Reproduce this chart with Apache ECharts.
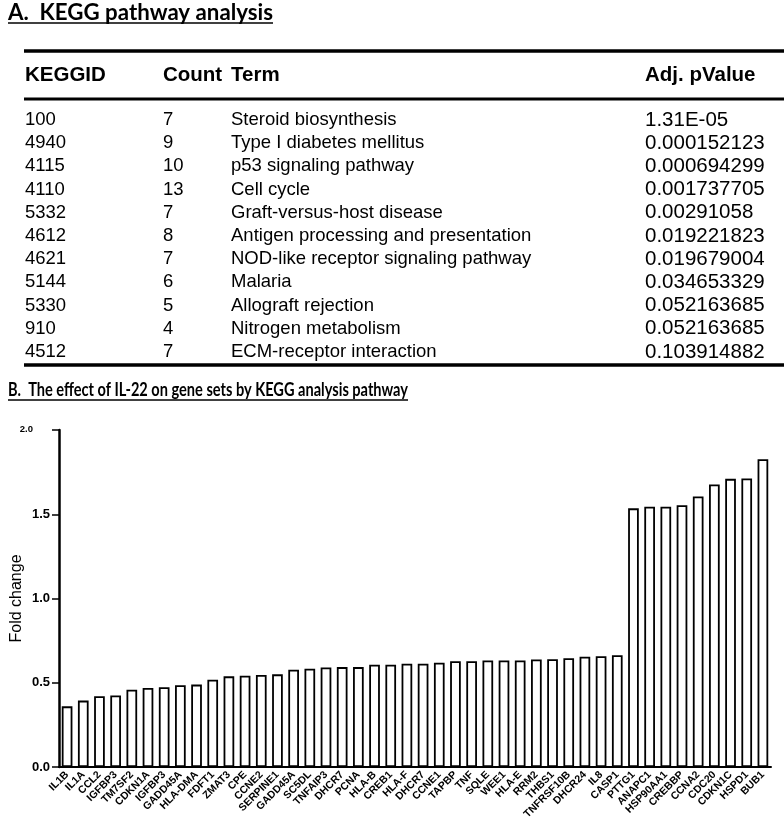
<!DOCTYPE html>
<html><head><meta charset="utf-8">
<script src="https://cdn.jsdelivr.net/npm/echarts@6/dist/echarts.min.js"></script>
<style>html,body{margin:0;padding:0;background:#fff}#c{width:784px;height:819px}</style>
</head><body><div id="c"></div>
<script>
const titleA = "A.  KEGG pathway analysis";
const titleB = "B.  The effect of IL-22 on gene sets by KEGG analysis pathway";
const tableHeaders = ["KEGGID", "Count", "Term", "Adj. pValue"];
const keggIds = ["100","4940","4115","4110","5332","4612","4621","5144","5330","910","4512"];
const counts = ["7","9","10","13","7","8","7","6","5","4","7"];
const terms = ["Steroid biosynthesis","Type I diabetes mellitus","p53 signaling pathway","Cell cycle","Graft-versus-host disease","Antigen processing and presentation","NOD-like receptor signaling pathway","Malaria","Allograft rejection","Nitrogen metabolism","ECM-receptor interaction"];
const pValues = ["1.31E-05","0.000152123","0.000694299","0.001737705","0.00291058","0.019221823","0.019679004","0.034653329","0.052163685","0.052163685","0.103914882"];

const genes = ["IL1B","IL1A","CCL2","IGFBP3","TM7SF2","CDKN1A","IGFBP3","GADD45A","HLA-DMA","FDFT1","ZMAT3","CPE","CCNE2","SERPINE1","GADD45A","SC5DL","TNFAIP3","DHCR7","PCNA","HLA-B","CREB1","HLA-F","DHCR7","CCNE1","TAPBP","TNF","SQLE","WEE1","HLA-E","RRM2","THBS1","TNFRSF10B","DHCR24","IL8","CASP1","PTTG1","ANAPC1","HSP90AA1","CREBBP","CCNA2","CDC20","CDKN1C","HSPD1","BUB1"];
const foldChange = [0.36,0.394,0.42,0.424,0.459,0.469,0.473,0.485,0.489,0.518,0.538,0.542,0.546,0.55,0.577,0.583,0.591,0.593,0.593,0.607,0.607,0.613,0.613,0.619,0.628,0.628,0.632,0.632,0.632,0.638,0.64,0.645,0.655,0.657,0.663,1.535,1.545,1.545,1.554,1.606,1.677,1.71,1.712,1.826];
const yTicks = {min: 0, max: 2, interval: 0.5};

const chart = echarts.init(document.getElementById('c'));
const fontArial = '"Liberation Sans", Arial, sans-serif';
const titleAFont = 'bold 22px Lato, ' + fontArial;
const titleBFont = 'bold 19.5px Lato, ' + fontArial;
const cellFont = '18.5px ' + fontArial;
const pFont = '20.5px ' + fontArial;
const headFont = 'bold 20.5px ' + fontArial;
function measure(text, font){const cv=document.createElement('canvas').getContext('2d');cv.font=font;return cv.measureText(text).width;}

const g = [];
function addTitle(text, font, y, targetW){
  const w = measure(text, font);
  const sx = targetW ? targetW / w : 1;
  g.push({type:'text', x:8, y:y, scaleX:sx, originX:0, style:{text:text, font:font, fill:'#000', textVerticalAlign:'middle'}});
  g.push({type:'line', shape:{x1:8, y1:y+10, x2:8+w*sx, y2:y+10}, style:{stroke:'#000', lineWidth:1.5}});
}
addTitle(titleA, titleAFont, 13, 265);
addTitle(titleB, titleBFont, 390, 400);
const colX = [25, 163, 231, 645];
g.push({type:'line', shape:{x1:24,y1:51,x2:784,y2:51}, style:{stroke:'#000', lineWidth:3.5}});
tableHeaders.forEach((h,i)=>g.push({type:'text', x:colX[i], y:75, style:{text:h, font:headFont, fill:'#000', textVerticalAlign:'middle'}}));
g.push({type:'line', shape:{x1:24,y1:99,x2:784,y2:99}, style:{stroke:'#000', lineWidth:3}});
keggIds.forEach((id,r)=>{
  const y = 120 + r*23.2;
  [id, counts[r], terms[r], pValues[r]].forEach((t,i)=>g.push({type:'text', x:colX[i], y:y, style:{text:t, font:(i===3?pFont:cellFont), fill:'#000', textVerticalAlign:'middle'}}));
});
g.push({type:'line', shape:{x1:24,y1:365,x2:784,y2:365}, style:{stroke:'#000', lineWidth:3.5}});

chart.setOption({
  animation:false,
  backgroundColor:'#fff',
  graphic:g,
  grid:{left:59, right:13, top:430, bottom:52, containLabel:false, outerBoundsMode:'none'},
  xAxis:{type:'category', data:genes, boundaryGap:true,
    axisLine:{lineStyle:{color:'#000', width:2}},
    axisTick:{alignWithLabel:true, length:5, lineStyle:{color:'#000', width:1.5}},
    axisLabel:{interval:0, rotate:45, fontSize:10.5, fontWeight:'bold', color:'#000', fontFamily:fontArial, margin:6}},
  yAxis:{type:'value', min:yTicks.min, max:yTicks.max, interval:yTicks.interval,
    name:'Fold change', nameLocation:'middle', nameGap:34, nameRotate:90, nameMoveOverlap:false,
    nameTextStyle:{fontSize:16, color:'#000', fontFamily:fontArial},
    splitLine:{show:false},
    axisLine:{show:true, lineStyle:{color:'#000', width:2.5}},
    axisTick:{show:true, length:7, lineStyle:{color:'#000', width:1.5}},
    axisLabel:{fontSize:13, fontWeight:'bold', color:'#000', margin:9, fontFamily:fontArial,
      formatter:v=> v===2 ? '{s|' + v.toFixed(1) + '}' : v.toFixed(1),
      rich:{s:{fontSize:9.5, fontWeight:'bold', fontFamily:fontArial, color:'#000', padding:[0,17,2,0]}}}},
  series:[{type:'bar', data:foldChange, barWidth:'66%',
    itemStyle:{color:'#fff', borderColor:'#000', borderWidth:1.8}}]
});
</script></body></html>
